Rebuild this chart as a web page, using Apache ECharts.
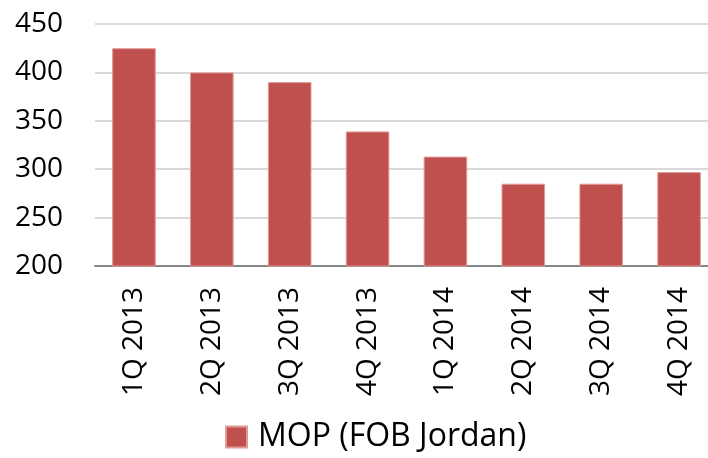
<!DOCTYPE html>
<html>
<head>
<meta charset="utf-8">
<script src="https://cdn.jsdelivr.net/npm/echarts@6/dist/echarts.min.js"></script>
<style>
  html, body { margin: 0; padding: 0; background: #fff; }
  #chart { width: 708px; height: 458px; }
</style>
</head>
<body>
<div id="chart"></div>
<script>
// categories and values
const quarters = ['1Q 2013', '2Q 2013', '3Q 2013', '4Q 2013', '1Q 2014', '2Q 2014', '3Q 2014', '4Q 2014'];
const mopPrice = [425, 400, 390, 339, 313, 285, 285, 297];
const seriesName = 'MOP (FOB Jordan)';

const font = '"Open Sans", "Liberation Sans", sans-serif';
const chart = echarts.init(document.getElementById('chart'));

chart.setOption({
  animation: false,
  textStyle: { fontFamily: font },
  grid: {
    left: 95,
    right: -10,
    top: 24,
    bottom: 192,
    containLabel: false,
    outerBoundsMode: 'none'
  },
  legend: {
    data: [seriesName],
    left: 220,
    bottom: 0,
    icon: 'rect',
    itemWidth: 21,
    itemHeight: 21,
    textStyle: { fontSize: 32, color: '#000', fontFamily: font, padding: [0, 0, 0, 6] }
  },
  xAxis: {
    type: 'category',
    data: quarters,
    axisTick: { show: false },
    axisLine: { lineStyle: { color: '#868686', width: 2 } },
    axisLabel: {
      rotate: 90,
      margin: 21,
      fontSize: 28,
      color: '#000',
      fontFamily: font
    }
  },
  yAxis: {
    type: 'value',
    min: 200,
    max: 450,
    interval: 50,
    axisLine: { show: false },
    axisTick: { show: false },
    splitLine: { lineStyle: { color: '#d9d9d9', width: 2 } },
    axisLabel: {
      margin: 32,
      fontSize: 28,
      color: '#000',
      fontFamily: font
    }
  },
  series: [{
    name: seriesName,
    type: 'bar',
    data: mopPrice,
    barCategoryGap: '44%',
    itemStyle: {
      color: '#C0504D',
      borderColor: '#e09a98',
      borderWidth: 1
    }
  }]
});
</script>
</body>
</html>
